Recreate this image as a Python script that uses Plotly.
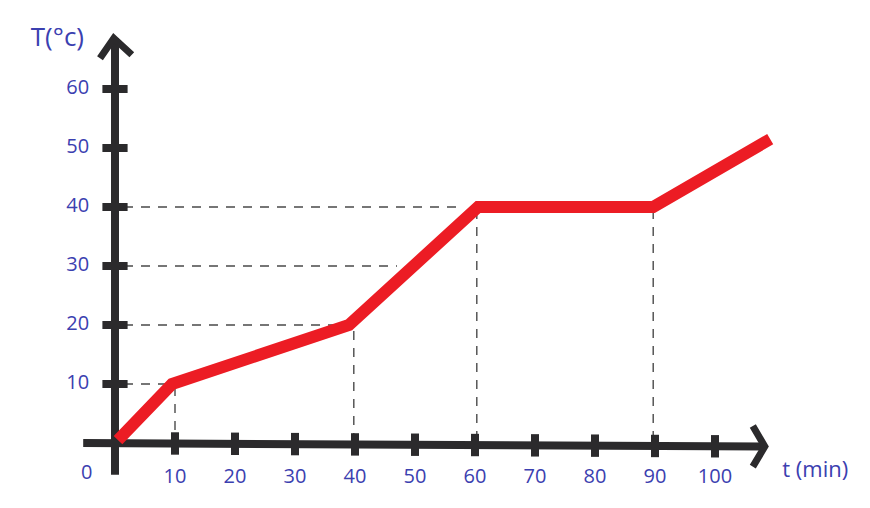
import plotly.graph_objects as go

# ---- data ----
time_min = [0.5, 9.5, 39, 60.5, 89.7, 109.2]
temp_c = [0.5, 10, 20, 40, 40, 51.5]

x_ticks = [10, 20, 30, 40, 50, 60, 70, 80, 90, 100]
x_tick_labels = ["10", "20", "30", "40", "50", "60", "70", "80", "90", "100"]
y_ticks = [10, 20, 30, 40, 50, 60]
y_tick_labels = ["10", "20", "30", "40", "50", "60"]

# reference (dashed) guide lines
h_guides_x_end = [9.5, 39, 47, 57]
h_guides_y = [10, 20, 30, 40]
v_guides_x = [10, 39.8, 60.3, 89.7]
v_guides_y_top = [9.5, 19, 39.5, 39.5]

x_title = "t (min)"
y_title = "T(°c)"

# axis extents
X_AXIS_START, X_AXIS_END = -5.3, 108.3
Y_AXIS_START, Y_AXIS_END = -5.4, 68.6
X_AXIS_DROP = 0.6  # hand-drawn axis sags slightly to the right

AXIS_COLOR = "#2b2a2c"
LABEL_COLOR = "#3b40b0"
LINE_COLOR = "#ec1c24"
DASH_COLOR = "#4a4a4a"
FONT = "Open Sans"

slope = -X_AXIS_DROP / (X_AXIS_END - X_AXIS_START)

fig = go.Figure()

# dashed guides
for xe, yv in zip(h_guides_x_end, h_guides_y):
    fig.add_trace(go.Scatter(x=[1.5, xe], y=[yv, yv], mode="lines",
                             line=dict(color=DASH_COLOR, width=1.4, dash="9px,8px"),
                             hoverinfo="skip", showlegend=False))
for xv, yt in zip(v_guides_x, v_guides_y_top):
    fig.add_trace(go.Scatter(x=[xv, xv], y=[yt, 1.0], mode="lines",
                             line=dict(color=DASH_COLOR, width=1.4, dash="9px,8px"),
                             hoverinfo="skip", showlegend=False))

# axes
fig.add_trace(go.Scatter(x=[X_AXIS_START, X_AXIS_END], y=[0, -X_AXIS_DROP], mode="lines",
                         line=dict(color=AXIS_COLOR, width=8), hoverinfo="skip", showlegend=False))
fig.add_trace(go.Scatter(x=[0, 0], y=[Y_AXIS_START, Y_AXIS_END], mode="lines",
                         line=dict(color=AXIS_COLOR, width=8), hoverinfo="skip", showlegend=False))
# arrow heads
fig.add_trace(go.Scatter(x=[X_AXIS_END - 2.0, X_AXIS_END, X_AXIS_END - 2.0],
                         y=[2.9, -X_AXIS_DROP, -4.0], mode="lines",
                         line=dict(color=AXIS_COLOR, width=7), hoverinfo="skip", showlegend=False))
fig.add_trace(go.Scatter(x=[-2.5, -0.2, 2.8],
                         y=[Y_AXIS_END - 3.4, Y_AXIS_END, Y_AXIS_END - 2.8], mode="lines",
                         line=dict(color=AXIS_COLOR, width=7), hoverinfo="skip", showlegend=False))

# tick marks
fig.add_trace(go.Scatter(x=x_ticks, y=[slope * (t - X_AXIS_START) for t in x_ticks], mode="markers",
                         marker=dict(symbol="line-ns", size=16, line=dict(color=AXIS_COLOR, width=8)),
                         hoverinfo="skip", showlegend=False))
fig.add_trace(go.Scatter(x=[0] * len(y_ticks), y=y_ticks, mode="markers",
                         marker=dict(symbol="line-ew", size=18, line=dict(color=AXIS_COLOR, width=8)),
                         hoverinfo="skip", showlegend=False))

# data line
fig.add_trace(go.Scatter(x=time_min, y=temp_c, mode="lines",
                         line=dict(color=LINE_COLOR, width=12),
                         hoverinfo="skip", showlegend=False))

# tick labels
fig.add_trace(go.Scatter(x=x_ticks, y=[-5.9] * len(x_ticks), mode="text", text=x_tick_labels,
                         textfont=dict(family=FONT, size=20, color=LABEL_COLOR),
                         textposition="middle center", hoverinfo="skip", showlegend=False))
fig.add_trace(go.Scatter(x=[-6.2] * len(y_ticks), y=y_ticks, mode="text", text=y_tick_labels,
                         textfont=dict(family=FONT, size=20, color=LABEL_COLOR),
                         textposition="middle center", hoverinfo="skip", showlegend=False))
fig.add_trace(go.Scatter(x=[-4.7], y=[-5.3], mode="text", text=["0"],
                         textfont=dict(family=FONT, size=20, color=LABEL_COLOR),
                         textposition="middle center", hoverinfo="skip", showlegend=False))

# axis titles
fig.add_trace(go.Scatter(x=[-9.6], y=[68.4], mode="text", text=[y_title],
                         textfont=dict(family=FONT, size=26, color=LABEL_COLOR),
                         textposition="middle center", hoverinfo="skip", showlegend=False))
fig.add_trace(go.Scatter(x=[116.7], y=[-4.9], mode="text", text=[x_title],
                         textfont=dict(family=FONT, size=22, color=LABEL_COLOR),
                         textposition="middle center", hoverinfo="skip", showlegend=False))

# page body has an 8px default margin: figure covers page px 8..870 x 8..508
fig.update_layout(
    width=862, height=500,
    margin=dict(l=0, r=0, t=0, b=0),
    paper_bgcolor="white", plot_bgcolor="white",
    xaxis=dict(range=[(8 - 115) / 6, (870 - 115) / 6], visible=False, fixedrange=True),
    yaxis=dict(range=[(443 - 508) / 5.9, (443 - 8) / 5.9], visible=False, fixedrange=True),
    hovermode=False,
)

fig.write_html("out.html")
